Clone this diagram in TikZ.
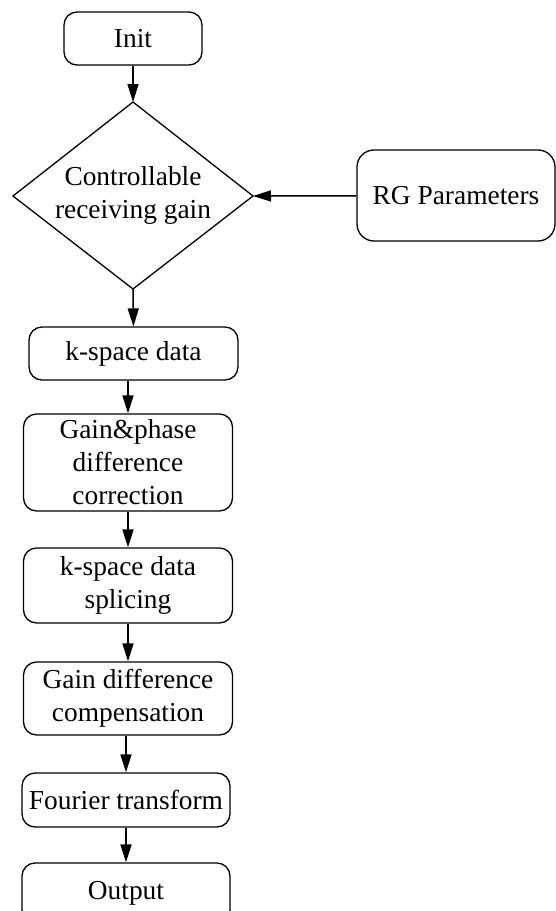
\documentclass[tikz,border=0pt]{standalone}
\usepackage{fontspec}
\setmainfont{Liberation Serif}
\usetikzlibrary{arrows.meta}
\begin{document}
\begin{tikzpicture}[x=1pt,y=-1pt,
  every node/.style={font=\fontsize{27.4}{33}\selectfont, align=center, inner sep=0pt},
  rbox/.style={draw, line width=1.3pt, rounded corners=13pt},
  dline/.style={line width=1.3pt, line join=miter},
  flow/.style={line width=1.5pt, -{Triangle[length=18pt,width=11pt]}}]
\useasboundingbox (0,0) rectangle (556,911);
\node[rbox, minimum width=138pt, minimum height=53pt] (init) at (133,38.5) {Init};
\node (gain) at (133,195.5) {Controllable\\receiving gain};
\coordinate (gt) at (133,102);
\coordinate (gr) at (253,196);
\coordinate (gb) at (133,289);
\coordinate (gl) at (13,196);
\draw[dline] (gt) -- (gr) -- (gb) -- (gl) -- cycle;
\node[rbox, rounded corners=17pt, minimum width=198pt, minimum height=91pt] (rg) at (456,195.5) {RG Parameters};
\node[rbox, minimum width=209pt, minimum height=53pt] (ks) at (133.5,353.5) {k-space data};
\node[rbox, minimum width=209pt, minimum height=97pt] (gp) at (128,462.5) {Gain\&phase\\difference\\correction};
\node[rbox, minimum width=209pt, minimum height=75pt] (sp) at (128,585.5) {k-space data\\splicing};
\node[rbox, minimum width=209pt, minimum height=73pt] (gd) at (128,698.5) {Gain difference\\compensation};
\node[rbox, minimum width=208pt, minimum height=54pt] (ft) at (126,800) {Fourier transform};
\node[rbox, minimum width=208pt, minimum height=60pt] (out) at (126,893) {Output};
\draw[flow] (init) -- (gt);
\draw[flow] (rg) -- (gr);
\draw[flow] (gb) -- (ks.north);
\draw[flow] (gp.north |- ks.south) -- (gp.north);
\draw[flow] (gp) -- (sp);
\draw[flow] (sp) -- (gd);
\draw[flow] (ft.north |- gd.south) -- (ft.north);
\draw[flow] (ft) -- (out);
\end{tikzpicture}
\end{document}
